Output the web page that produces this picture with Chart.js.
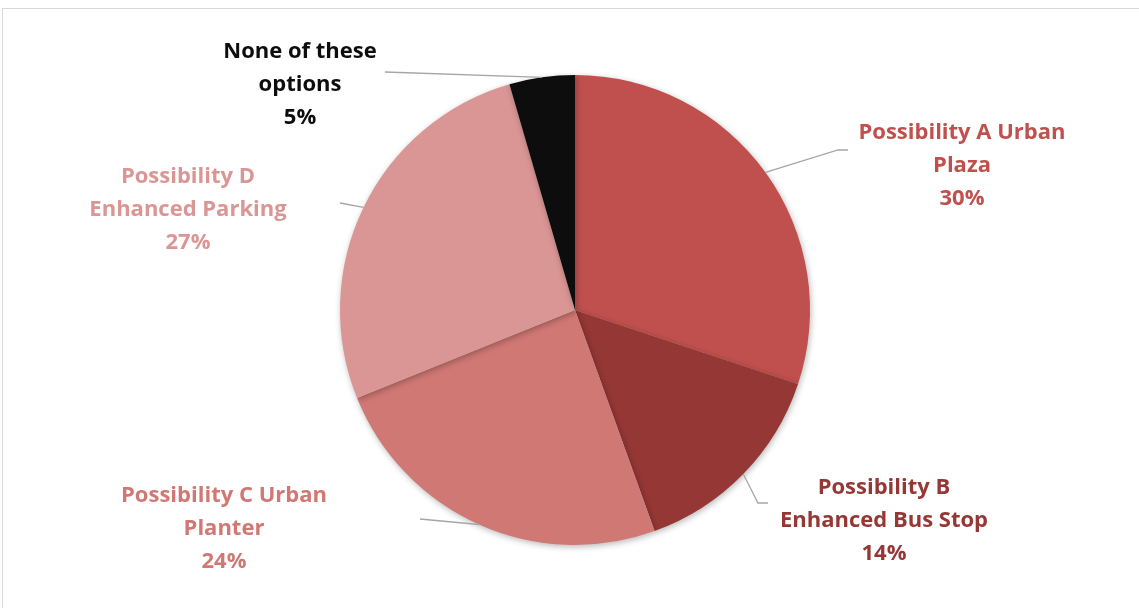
<!DOCTYPE html>
<html>
<head>
<meta charset="utf-8">
<script src="https://cdn.jsdelivr.net/npm/chart.js@4/dist/chart.umd.min.js"></script>
<style>
  html, body { margin: 0; padding: 0; background: #fff; }
  #wrap { position: relative; width: 1139px; height: 608px; }
  #frame { position: absolute; left: 2px; top: 8px; right: -2px; bottom: -2px; border-top: 1px solid #d9d9d9; border-left: 1px solid #d9d9d9; }
</style>
</head>
<body>
<div id="wrap">
  <canvas id="pieChart" width="1139" height="608"></canvas>
  <div id="frame"></div>
</div>
<script>
const categories = ["Possibility A Urban Plaza", "Possibility B Enhanced Bus Stop", "Possibility C Urban Planter", "Possibility D Enhanced Parking", "None of these options"];
const shares = [30.1, 14.4, 24.4, 26.6, 4.5];
const labelLines = [["Possibility A Urban", "Plaza"], ["Possibility B", "Enhanced Bus Stop"], ["Possibility C Urban", "Planter"], ["Possibility D", "Enhanced Parking"], ["None of these", "options"]];
const sliceColors = ["#C0504D", "#953735", "#D07874", "#DA9694", "#0D0D0D"];

// label placement, relative to the pie centre (px)
const labelAt = [[387, -177], [309, 178], [-351, 186], [-387, -133], [-275, -258]];
const leaderTo = [
    [[263, -160], [273, -160]],
    [[183, 193], [193, 193]],
    [[-155, 209]],
    [[-235, -107]],
    [[-190, -238]]
];

const shadowPlugin = {
    id: "pieShadow",
    beforeDatasetDraw(chart) {
        const ctx = chart.ctx;
        ctx.save();
        ctx.shadowColor = "rgba(0,0,0,0.28)";
        ctx.shadowBlur = 6;
        ctx.shadowOffsetX = 1;
        ctx.shadowOffsetY = 2;
    },
    afterDatasetDraw(chart) {
        chart.ctx.restore();
    }
};

const outsideLabels = {
    id: "outsideLabels",
    afterDatasetsDraw(chart) {
        const ctx = chart.ctx;
        const arcs = chart.getDatasetMeta(0).data;
        ctx.save();
        arcs.forEach((arc, i) => {
            const mid = (arc.startAngle + arc.endAngle) / 2;
            const cx = arc.x, cy = arc.y;
            // leader line
            ctx.beginPath();
            ctx.strokeStyle = "#A6A6A6";
            ctx.lineWidth = 1.3;
            ctx.moveTo(cx + Math.cos(mid) * arc.outerRadius, cy + Math.sin(mid) * arc.outerRadius);
            leaderTo[i].forEach(p => ctx.lineTo(cx + p[0], cy + p[1]));
            ctx.stroke();

            // text
            ctx.fillStyle = sliceColors[i];
            ctx.font = "bold 22px 'Open Sans', sans-serif";
            ctx.textAlign = "center";
            ctx.textBaseline = "middle";
            const lines = labelLines[i].concat([Math.round(shares[i]) + "%"]);
            lines.forEach((t, k) => {
                ctx.fillText(t, cx + labelAt[i][0], cy + labelAt[i][1] + k * 33);
            });
        });
        ctx.restore();
    }
};

document.addEventListener("DOMContentLoaded", function () {
    let pieChart = document.getElementById("pieChart").getContext("2d");

    new Chart(pieChart, {
        type: "pie",
        data: {
            labels: categories,
            datasets: [{
                backgroundColor: sliceColors,
                borderWidth: 0,
                hoverOffset: 0,
                data: shares
            }]
        },
        options: {
            responsive: false,
            animation: false,
            layout: { padding: { top: 75, bottom: 63, left: 11, right: 0 } },
            plugins: {
                legend: { display: false },
                tooltip: { enabled: false }
            }
        },
        plugins: [shadowPlugin, outsideLabels]
    });
});
</script>
</body>
</html>
